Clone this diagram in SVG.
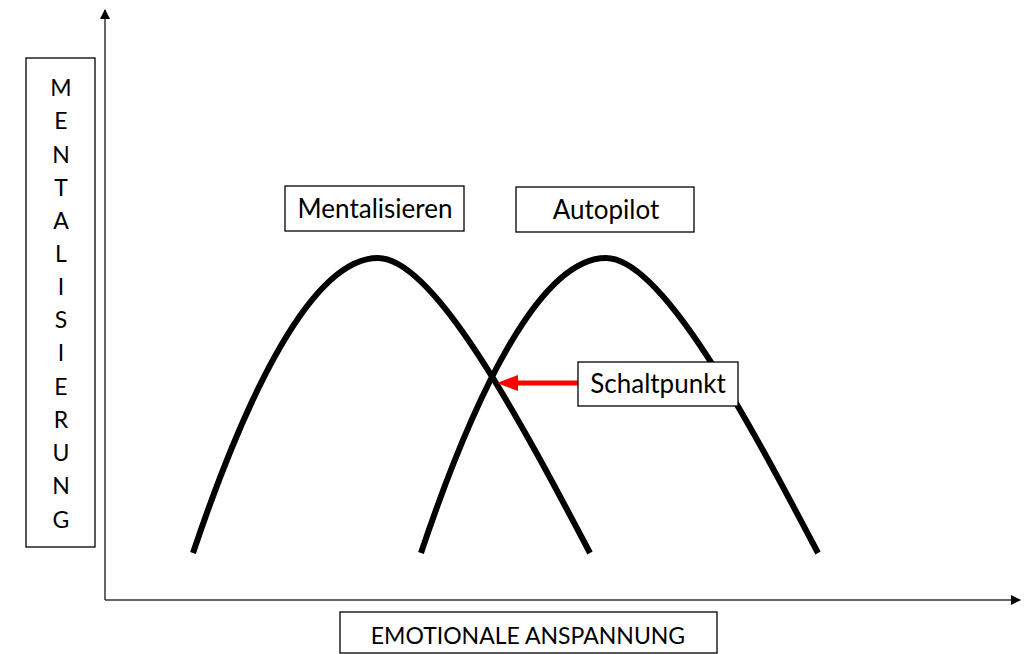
<svg xmlns="http://www.w3.org/2000/svg" width="1026" height="654" viewBox="0 0 1026 654">
<style>
.box{fill:#fff;stroke:#000;stroke-width:1.3}
.t{font-family:Lato,"Open Sans","Liberation Sans",sans-serif;font-size:23px;fill:#000;text-anchor:middle}
.lg{font-size:26px}
.curve{fill:none;stroke:#000;stroke-width:6}
.axis{stroke:#333;stroke-width:1.5;fill:none}
</style>
<defs>
<marker id="ah" markerWidth="10" markerHeight="10" refX="9" refY="5" orient="auto" markerUnits="userSpaceOnUse">
<path d="M0,0 L10,5 L0,10 Z" fill="#000"/>
</marker>
</defs>
<g id="connectors">
<path class="axis" d="M105,600 L105,10" marker-end="url(#ah)"/>
<path class="axis" d="M105,600 L1020,600" marker-end="url(#ah)"/>
<path id="curve-mentalisieren" class="curve" d="M193,553 C246,395 312,258 378,258 C434,258 520,420 590,553"/>
<path id="curve-autopilot" class="curve" d="M421,553 C474,395 540,258 606,258 C662,258 748,420 818,553"/>
<path id="arrow-schaltpunkt" d="M578,383 L518,383" stroke="#f00" stroke-width="5" fill="none"/>
<path d="M497,383 L518,375 L518,391 Z" fill="#f00"/>
</g>
<g id="node-y-label">
<rect class="box" x="26" y="58" width="69" height="489"/>
<g class="t">
<text x="61" y="96">M</text>
<text x="61" y="129">E</text>
<text x="61" y="163">N</text>
<text x="61" y="196">T</text>
<text x="61" y="229">A</text>
<text x="61" y="262">L</text>
<text x="61" y="295">I</text>
<text x="61" y="328">S</text>
<text x="61" y="361">I</text>
<text x="61" y="395">E</text>
<text x="61" y="428">R</text>
<text x="61" y="461">U</text>
<text x="61" y="494">N</text>
<text x="61" y="528">G</text>
</g>
</g>
<g id="node-mentalisieren">
<rect class="box" x="285" y="186" width="179" height="45"/>
<text class="t lg" x="375" y="218">Mentalisieren</text>
</g>
<g id="node-autopilot">
<rect class="box" x="516" y="187" width="178" height="45"/>
<text class="t lg" x="606" y="219">Autopilot</text>
</g>
<g id="node-schaltpunkt">
<rect class="box" x="578" y="362" width="160" height="44"/>
<text class="t lg" x="658" y="393">Schaltpunkt</text>
</g>
<g id="node-x-label">
<rect class="box" x="340" y="612" width="377" height="41"/>
<text class="t" x="528" y="644" font-size="24">EMOTIONALE ANSPANNUNG</text>
</g>
</svg>
